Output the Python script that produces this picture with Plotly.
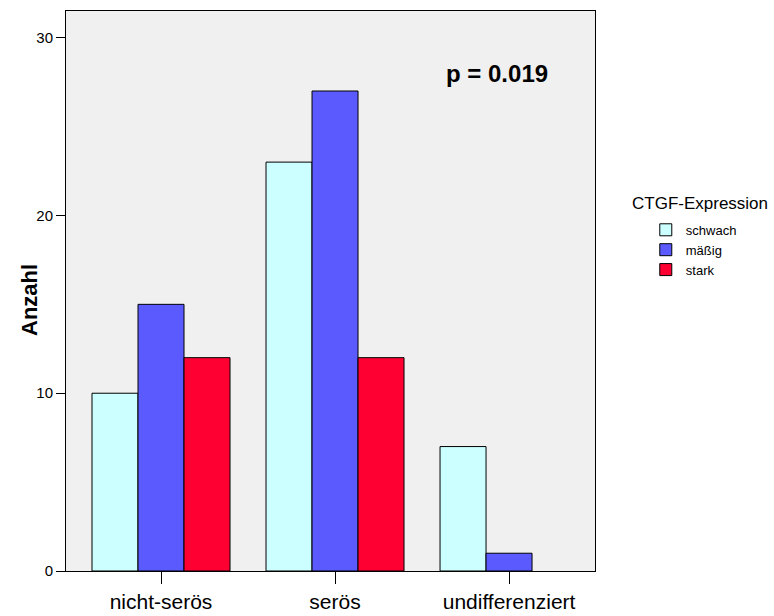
import plotly.graph_objects as go

categories = ["nicht-serös", "serös", "undifferenziert"]
series_names = ["schwach", "mäßig", "stark"]
schwach = [10, 23, 7]
maessig = [15, 27, 1]
stark = [12, 12, 0]
series_values = [schwach, maessig, stark]
colors = ["#CCFFFF", "#5A5AFF", "#FF0033"]
y_ticks = [0, 10, 20, 30]

fig = go.Figure()
for name, vals, col in zip(series_names, series_values, colors):
    # empty bars get no outline so nothing is drawn for a zero count
    widths = [1 if v > 0 else 0 for v in vals]
    fig.add_trace(go.Bar(
        x=categories, y=vals, name=name,
        marker=dict(color=col, line=dict(color="black", width=widths)),
    ))

fig.update_layout(
    width=774, height=616,
    margin=dict(l=66, r=179, t=11, b=45),
    paper_bgcolor="white",
    plot_bgcolor="#F0F0F0",
    barmode="group",
    bargap=0.207,
    bargroupgap=0,
    font=dict(family="Liberation Sans, Arial, sans-serif", color="black"),
    xaxis=dict(
        range=[-0.546, 2.494],
        automargin=False,
        showgrid=False, zeroline=False,
        showline=True, linecolor="black", linewidth=1, mirror=True,
        ticks="outside", ticklen=12, tickwidth=1, tickcolor="black",
        tickfont=dict(size=21),
    ),
    yaxis=dict(
        range=[0, 31.5],
        automargin=False,
        tickvals=y_ticks,
        showgrid=False, zeroline=False,
        showline=True, linecolor="black", linewidth=1, mirror=True,
        ticks="outside", ticklen=9, tickwidth=1, tickcolor="black",
        tickfont=dict(size=15),
    ),
    legend=dict(
        x=1.096, y=0.636, xanchor="left", yanchor="top",
        font=dict(size=13),
        bgcolor="rgba(0,0,0,0)",
        itemwidth=30,
        tracegroupgap=0,
    ),
    annotations=[
        dict(
            x=(30 - 66) / 529, y=(571 - 300) / 560, xref="paper", yref="paper",
            text="<b>Anzahl</b>", textangle=-90, showarrow=False,
            font=dict(size=22), xanchor="center", yanchor="middle",
        ),
        dict(
            x=0.814, y=0.889, xref="paper", yref="paper",
            text="<b>p = 0.019</b>", showarrow=False,
            font=dict(size=24), xanchor="center", yanchor="middle",
        ),
        dict(
            x=(630 - 66) / 529, y=(571 - 203) / 560, xref="paper", yref="paper",
            text="CTGF-Expression", showarrow=False,
            font=dict(size=17), xanchor="left", yanchor="middle",
        ),
    ],
)

fig.write_html("out.html")
